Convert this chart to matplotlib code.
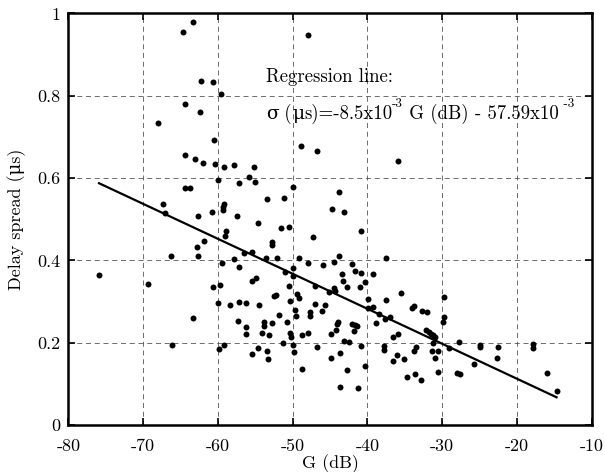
import matplotlib
matplotlib.use("Agg")
import matplotlib.pyplot as plt
from matplotlib.transforms import offset_copy
import numpy as np

plt.rcParams['font.family'] = ['cmr10', 'DejaVu Serif']
plt.rcParams['mathtext.fontset'] = 'cm'
plt.rcParams['axes.unicode_minus'] = False
plt.rcParams['axes.formatter.use_mathtext'] = False

# Measured points: G (dB) and delay spread (us)
gain_db = [
    -63.3, -64.7, -62.3, -60.7, -59.6, -64.4, -62.4, -68.0, -60.5, -64.4, -63.1,
    -47.9, -48.9, -46.8, -35.9,
    -62.0, -60.4, -59.2, -57.8, -55.2, -60.0, -57.2, -55.9, -55.1, -64.4, -63.7,
    -67.3, -67.1, -59.2, -59.3, -59.3, -60.8, -62.6, -57.5, -54.6, -58.9, -59.1,
    -61.8, -62.8, -62.6, -66.3, -56.5, -55.5, -59.4, -57.8, -57.2, -75.9, -69.4,
    -60.7, -59.7, -55.5, -54.9,
    -60.0, -58.4, -57.2, -56.3, -54.5, -63.3, -57.3, -56.2, -56.3, -66.1, -59.9,
    -59.2, -55.4, -54.7,
    -49.9, -43.8, -53.4, -51.2, -44.7, -43.1, -51.5, -50.5, -40.8, -47.3, -52.8,
    -52.8, -53.6, -52.1, -49.9, -49.1, -48.0, -45.9, -44.5, -43.8, -42.0, -41.7,
    -40.8, -43.4, -39.2, -37.5, -51.0, -49.9, -43.3, -50.5, -47.0, -45.2, -44.5,
    -44.4, -42.7, -41.0, -40.3, -52.5, -52.2, -49.4, -49.1, -39.9, -37.5, -35.5,
    -50.4, -49.7, -47.0, -45.7, -47.7, -47.7, -46.1, -49.6, -51.8, -53.8, -53.8,
    -52.8, -50.7, -54.1, -53.1, -50.4, -50.2, -48.7, -47.9, -44.9, -44.1, -43.9,
    -44.2, -42.0, -41.6, -41.4, -41.8, -51.3, -49.9, -49.8, -53.4, -53.3, -46.7,
    -43.1, -42.5, -43.6, -44.9, -48.8, -42.7, -40.8, -40.3, -43.6, -41.2, -39.9,
    -39.2, -38.9, -38.5, -37.6, -37.0, -35.9, -36.6, -37.8, -37.8, -36.0, -36.6,
    -35.1, -34.1, -33.8, -32.7, -32.0, -33.8, -33.5, -34.7, -33.7, -32.8, -32.2,
    -31.8, -31.5, -31.2, -30.9, -31.3, -30.5,
    -29.7, -29.7, -29.9, -31.2, -30.5, -30.9, -29.1, -27.8, -28.0, -27.6, -25.7,
    -25.0, -24.9, -22.6, -22.5, -17.8, -17.8, -16.0, -14.7,
]
delay_spread = [
    0.980, 0.954, 0.837, 0.834, 0.804, 0.781, 0.761, 0.734, 0.693, 0.655, 0.646,
    0.948, 0.679, 0.666, 0.642,
    0.637, 0.634, 0.626, 0.631, 0.628, 0.596, 0.587, 0.602, 0.590, 0.575, 0.575,
    0.537, 0.514, 0.537, 0.529, 0.522, 0.518, 0.508, 0.508, 0.492, 0.471, 0.459,
    0.447, 0.432, 0.411, 0.411, 0.417, 0.421, 0.394, 0.403, 0.385, 0.365, 0.343,
    0.335, 0.341, 0.350, 0.356,
    0.296, 0.292, 0.300, 0.296, 0.292, 0.259, 0.253, 0.239, 0.220, 0.195, 0.185,
    0.194, 0.172, 0.186,
    0.579, 0.565, 0.549, 0.552, 0.526, 0.517, 0.479, 0.482, 0.471, 0.458, 0.444,
    0.437, 0.407, 0.406, 0.382, 0.406, 0.394, 0.390, 0.397, 0.411, 0.391, 0.374,
    0.370, 0.367, 0.367, 0.405, 0.372, 0.363, 0.350, 0.338, 0.338, 0.324, 0.333,
    0.326, 0.335, 0.335, 0.347, 0.313, 0.315, 0.318, 0.309, 0.307, 0.304, 0.320,
    0.301, 0.279, 0.294, 0.291, 0.275, 0.266, 0.276, 0.265, 0.267, 0.250, 0.241,
    0.247, 0.250, 0.223, 0.219, 0.223, 0.213, 0.219, 0.224, 0.222, 0.245, 0.250,
    0.230, 0.245, 0.244, 0.241, 0.228, 0.199, 0.194, 0.178, 0.179, 0.160, 0.190,
    0.204, 0.202, 0.174, 0.162, 0.136, 0.133, 0.192, 0.144, 0.092, 0.089, 0.284,
    0.286, 0.247, 0.269, 0.258, 0.263, 0.222, 0.214, 0.193, 0.182, 0.171, 0.156,
    0.160, 0.284, 0.288, 0.277, 0.274, 0.181, 0.189, 0.117, 0.124, 0.110, 0.231,
    0.226, 0.222, 0.218, 0.215, 0.179, 0.129,
    0.312, 0.262, 0.250, 0.199, 0.179, 0.162, 0.188, 0.202, 0.127, 0.124, 0.148,
    0.194, 0.190, 0.162, 0.189, 0.196, 0.188, 0.127, 0.083,
]

# Regression: sigma = -8.5e-3 G - 57.59e-3
slope = -8.5e-3
intercept = -57.59e-3

x_ticks = [-80, -70, -60, -50, -40, -30, -20, -10]
y_ticks = [0, 0.2, 0.4, 0.6, 0.8, 1.0]
y_tick_labels = ['0', '0.2', '0.4', '0.6', '0.8', '1']

fig = plt.figure(figsize=(6.05, 4.72), dpi=100)
ax = fig.add_axes([0.113, 0.0996, 0.865, 0.8718])

ax.plot(gain_db, delay_spread, 'o', color='black', markersize=4.3,
        markeredgewidth=0, zorder=3)

gx = np.array([min(gain_db), max(gain_db)])
ax.plot(gx, slope * gx + intercept, color='black', linewidth=1.6, zorder=4)

ax.set_xlim(-80, -10)
ax.set_ylim(0, 1)
ax.set_xticks(x_ticks)
ax.set_xticklabels([str(t) for t in x_ticks])
ax.set_yticks(y_ticks)
ax.set_yticklabels(y_tick_labels)

ax.grid(True, color='#555555', linestyle=(0, (6, 4.5)), linewidth=0.6)
ax.set_axisbelow(True)

for s in ax.spines.values():
    s.set_linewidth(1.8)

ax.tick_params(direction='in', top=True, right=True, length=5, width=1.2,
               labelsize=13)
ax.tick_params(axis='x', pad=10)
ax.tick_params(axis='y', pad=6)

ax.set_xlabel('G (dB)', fontsize=13, labelpad=0)
ax.set_ylabel('Delay spread (\u03bcs)', fontsize=13, labelpad=8)

FS = 13.5
ax.text(-53.6, 0.834, 'Regression line:', fontsize=FS, va='baseline', ha='left')

renderer = fig.canvas.get_renderer()
pieces = [
    ('\u03c3', dict(fontsize=FS, family='DejaVu Serif'), 0),
    (' (', dict(fontsize=FS), 0),
    ('\u03bc', dict(fontsize=FS, family='DejaVu Serif'), 0),
    ('s)=-8.5x10', dict(fontsize=FS), 0),
    ('-3', dict(fontsize=9.5), 12),
    (' G (dB) - 57.59x10', dict(fontsize=FS), 0),
    (' -3', dict(fontsize=9.5), 12),
]
dx = 0.0
for txt, kw, dy in pieces:
    tr = offset_copy(ax.transData, fig=fig, x=dx, y=dy, units='dots')
    t = ax.text(-53.6, 0.743, txt, transform=tr, va='baseline', ha='left', **kw)
    dx += t.get_window_extent(renderer).width

fig.savefig('out.png', dpi=100)
